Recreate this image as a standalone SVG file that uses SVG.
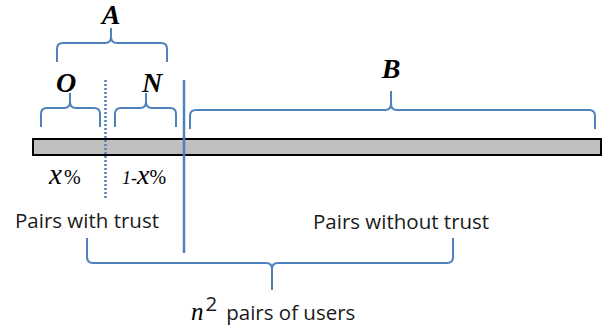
<svg xmlns="http://www.w3.org/2000/svg" width="612" height="335" viewBox="0 0 612 335">
  <defs>
    <style>
      .brace { fill: none; stroke: #4f81bd; stroke-width: 2; stroke-linejoin: round; stroke-linecap: butt; }
      .sep { stroke: #4f81bd; stroke-width: 2.5; fill: none; }
      .dots { stroke: #4f81bd; stroke-width: 2.5; stroke-dasharray: 2 2; fill: none; }
      .bar { fill: #bfbfbf; stroke: #000; stroke-width: 2; }
      .label { font-family: "Open Sans", "Liberation Sans", sans-serif; font-size: 20.5px; fill: #1a1a1a; }
      .script { font-family: "Liberation Serif", serif; font-style: italic; font-weight: bold; font-size: 28px; fill: #000; text-anchor: middle; }
      .pct { font-family: "Liberation Serif", serif; font-size: 20px; fill: #000; }
      .math { font-family: "Liberation Serif", serif; font-size: 25px; fill: #000; }
    </style>
  </defs>

  <!-- the pair population as one long bar -->
  <g id="bar">
    <rect class="bar" x="33" y="139" width="568" height="16"/>
  </g>

  <!-- separators and braces -->
  <g id="connectors">
    <line class="sep" x1="184" y1="80" x2="184" y2="253"/>
    <line class="dots" x1="105.5" y1="80" x2="105.5" y2="200"/>
    <!-- A: over O and N -->
    <path class="brace" d="M57 62 L57 49 Q57 43 63 43 L105 43 Q111 43 111 37 L111 28 M111 37 Q111 43 117 43 L161 43 Q167 43 167 49 L167 62"/>
    <!-- O -->
    <path class="brace" d="M41 127 L41 114 Q41 108 47 108 L64 108 Q70 108 70 102 L70 93 M70 102 Q70 108 76 108 L94 108 Q100 108 100 114 L100 127"/>
    <!-- N -->
    <path class="brace" d="M115 127 L115 114 Q115 108 121 108 L140 108 Q146 108 146 102 L146 93 M146 102 Q146 108 152 108 L170 108 Q176 108 176 114 L176 127"/>
    <!-- B -->
    <path class="brace" d="M190 129 L190 116 Q190 110 196 110 L385 110 Q391 110 391 104 L391 91 M391 104 Q391 110 397 110 L589 110 Q595 110 595 116 L595 129"/>
    <!-- all pairs, below -->
    <path class="brace" d="M87 238 L87 257 Q87 263 93 263 L266 263 Q272 263 272 269 L272 290 M272 269 Q272 263 278 263 L447 263 Q453 263 453 257 L453 238"/>
  </g>

  <g id="label-A"><text class="script" x="111" y="24">A</text></g>
  <g id="label-O"><text class="script" x="66" y="92">O</text></g>
  <g id="label-N"><text class="script" x="152" y="92">N</text></g>
  <g id="label-B"><text class="script" x="391" y="78">B</text></g>

  <g id="share-old">
    <text class="pct" x="49" y="184"><tspan font-style="italic" font-size="29">x</tspan><tspan dx="2">%</tspan></text>
  </g>
  <g id="share-new">
    <text class="pct" x="122" y="184" font-style="italic"><tspan font-size="18">1-</tspan><tspan font-size="28">x</tspan><tspan font-style="normal">%</tspan></text>
  </g>

  <g id="with-trust"><text class="label" x="15" y="228">Pairs with trust</text></g>
  <g id="without-trust"><text class="label" x="313" y="229">Pairs without trust</text></g>

  <g id="total">
    <text x="191" y="320"><tspan class="math" font-style="italic">n</tspan><tspan class="label" font-size="17" dy="-9" dx="2">2</tspan><tspan class="label" dy="9" dx="9">pairs of users</tspan></text>
  </g>
</svg>
